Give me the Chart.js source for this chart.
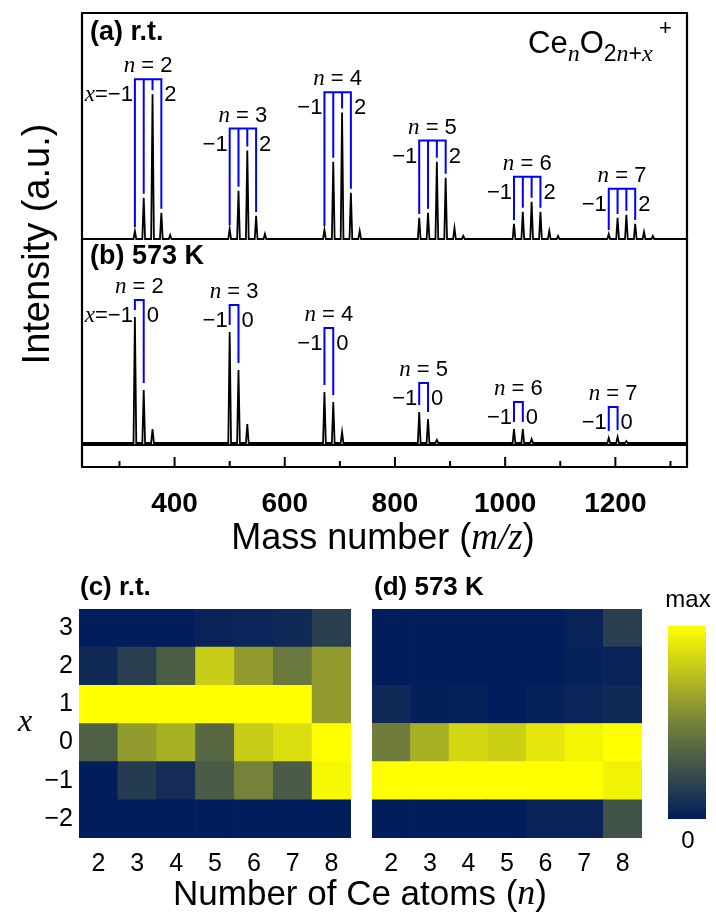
<!DOCTYPE html>
<html>
<head>
<meta charset="utf-8">
<script src="https://cdn.jsdelivr.net/npm/chart.js@4.4.1/dist/chart.umd.min.js"></script>
<style>
  body { margin: 0; background: #fff; width: 716px; height: 916px; position: relative; overflow: hidden; }
  canvas { position: absolute; }
</style>
</head>
<body>
<canvas id="specA" width="716" height="241" style="left:0;top:0"></canvas>
<canvas id="specB" width="716" height="570" style="left:0;top:0"></canvas>
<canvas id="mapC" width="716" height="346" style="left:0;top:570px"></canvas>
<canvas id="mapD" width="300" height="346" style="left:360px;top:570px"></canvas>
<canvas id="cbar" width="66" height="346" style="left:650px;top:570px"></canvas>
<script>
const SANS = '"Liberation Sans", Arial, sans-serif';
const SERIF = '"Liberation Serif", "Times New Roman", serif';
const NARROW = '"Liberation Sans Narrow", "Arial Narrow", "Liberation Sans", sans-serif';

// (a) r.t. mass spectrum: peak positions and heights
const massA = [328, 344, 360, 376, 392, 500, 516, 532, 548, 564, 672, 688, 704, 720, 736,
  844, 860, 876, 892, 908, 924, 1016, 1032, 1048, 1064, 1080, 1096, 1188, 1204, 1220, 1236, 1252, 1268];
const intA = [8, 41, 144, 26, 4, 10, 48, 88, 23, 5, 9, 77, 126, 46, 8,
  21, 26, 77, 61, 11, 3, 15, 27, 37, 27, 8, 3, 5, 21, 24, 15, 7, 3];
// (b) 573 K
const massB = [328, 344, 360, 500, 516, 532, 672, 688, 704, 844, 860, 876, 1016, 1032, 1048, 1188, 1204, 1220];
const intB = [126, 53, 14, 111, 73, 19, 51, 41, 11, 31, 24, 3, 14, 14, 4, 5, 6, 2];

// cluster brackets
const clusterN = [2, 3, 4, 5, 6, 7];
const bracketMassA = [[328, 344, 360, 376], [500, 516, 532, 548], [672, 688, 704, 720],
  [844, 860, 876, 892], [1016, 1032, 1048, 1064], [1188, 1204, 1220, 1236]];
const bracketTopA = [159, 110, 146, 98, 62, 50];
const bracketMassB = [[328, 344], [500, 516], [672, 688], [844, 860], [1016, 1032], [1188, 1204]];
const bracketTopB = [143, 138, 115, 60, 41, 36];

// mass axis
const massTickMarks = [300, 400, 500, 600, 700, 800, 900, 1000, 1100, 1200, 1300];
const massTicks = [400, 600, 800, 1000, 1200];

// heat maps, rows x = -2 ... 3, columns n = 2 ... 8 (0 = none, 1 = max)
const nAtoms = ['2', '3', '4', '5', '6', '7', '8'];
const xRows = ['−2', '−1', '0', '1', '2', '3'];
const rtMap = [
  [0, 0, 0, 0, 0, 0, 0],
  [0, 0.15, 0.08, 0.31, 0.5, 0.31, 0.97],
  [0.33, 0.6, 0.68, 0.37, 0.8, 0.87, 1],
  [1, 1, 1, 1, 1, 1, 0.6],
  [0.06, 0.17, 0.32, 0.8, 0.6, 0.45, 0.6],
  [0, 0, 0, 0.03, 0.04, 0.06, 0.17]
];
const hotMap = [
  [0, 0, 0, 0, 0.03, 0.03, 0.27],
  [1, 1, 1, 1, 1, 1, 0.95],
  [0.47, 0.68, 0.84, 0.81, 0.9, 0.96, 1],
  [0.06, 0.01, 0.02, 0, 0.02, 0.04, 0.06],
  [0, 0, 0, 0, 0, 0.02, 0.03],
  [0, 0, 0, 0, 0, 0.03, 0.17]
];

const cmapStops = [[0, [2, 29, 91]], [0.5, [118, 130, 58]], [1, [255, 255, 0]]];
function cmap(v) {
  const i = v <= 0.5 ? 0 : 1;
  const [p0, c0] = cmapStops[i], [p1, c1] = cmapStops[i + 1];
  const t = (v - p0) / (p1 - p0);
  const c = c0.map((a, k) => Math.round(a + (c1[k] - a) * t));
  return `rgb(${c[0]},${c[1]},${c[2]})`;
}

function trace(mass, inten) {
  const pts = [{x: 232, y: 0}];
  mass.forEach((m, i) => {
    pts.push({x: m - 2.5, y: 0}, {x: m, y: inten[i]}, {x: m + 2.5, y: 0});
  });
  pts.push({x: 1330, y: 0});
  return pts;
}

function brackets(groups, tops, mass, inten, gap) {
  const pts = [];
  groups.forEach((ms, k) => {
    const top = tops[k];
    const end = m => inten[mass.indexOf(m)] + gap;
    const a = ms[0], b = ms[ms.length - 1];
    pts.push({x: a, y: end(a)}, {x: a, y: top}, {x: b, y: top}, {x: b, y: end(b)}, {x: b, y: null});
    ms.slice(1, -1).forEach(m => pts.push({x: m, y: top}, {x: m, y: end(m)}, {x: m, y: null}));
  });
  return pts;
}

// draw a run of text pieces with their own fonts
function rich(ctx, parts, x, y, align, baseline) {
  ctx.save();
  ctx.fillStyle = '#000';
  ctx.textAlign = 'left';
  ctx.textBaseline = baseline || 'middle';
  const widths = parts.map(p => { ctx.font = p[0]; return ctx.measureText(p[1]).width; });
  const total = widths.reduce((s, w) => s + w, 0);
  let cx = align === 'center' ? x - total / 2 : align === 'right' ? x - total : x;
  parts.forEach((p, i) => {
    ctx.font = p[0];
    ctx.fillText(p[1], cx, y + (p[2] || 0));
    cx += widths[i];
  });
  ctx.restore();
}

const F21 = '22px ' + SANS, I21 = 'italic 23px ' + SERIF;

function clusterLabels(groups, tops, rightLabel) {
  return {
    id: 'clusterLabels',
    afterDatasetsDraw(chart) {
      const {ctx, scales: {x, y}} = chart;
      groups.forEach((ms, k) => {
        const xl = x.getPixelForValue(ms[0]);
        const xr = x.getPixelForValue(ms[ms.length - 1]);
        const yt = y.getPixelForValue(tops[k]);
        rich(ctx, [[I21, 'n'], [F21, ' = ' + clusterN[k]]], (xl + xr) / 2, yt - 13, 'center');
        const left = k === 0 ? [[I21, 'x'], [F21, '=−1']] : [[F21, '−1']];
        rich(ctx, left, xl - 2, yt + 16, 'right');
        rich(ctx, [[F21, rightLabel]], xr + 3, yt + 16, 'left');
      });
    }
  };
}

function frame(sides) {
  return {
    id: 'frame',
    afterDraw(chart) {
      const {ctx, chartArea: a} = chart;
      ctx.save();
      ctx.strokeStyle = '#000';
      ctx.lineWidth = 2.2;
      ctx.beginPath();
      if (sides.includes('top')) { ctx.moveTo(a.left - 1, a.top); ctx.lineTo(a.right + 1, a.top); }
      if (sides.includes('bottom')) { ctx.moveTo(a.left - 1, a.bottom); ctx.lineTo(a.right + 1, a.bottom); }
      ctx.moveTo(a.left, a.top); ctx.lineTo(a.left, a.bottom);
      ctx.moveTo(a.right, a.top); ctx.lineTo(a.right, a.bottom);
      ctx.stroke();
      ctx.restore();
    }
  };
}

const noInteract = {responsive: false, animation: false, events: []};

// ---- (a) r.t.
new Chart(document.getElementById('specA'), {
  type: 'line',
  data: {
    datasets: [
      {data: trace(massA, intA), borderColor: '#000', borderWidth: 1.8, pointRadius: 0, tension: 0},
      {data: brackets(bracketMassA, bracketTopA, massA, intA, 4), borderColor: '#0000ff',
        borderWidth: 2, pointRadius: 0, spanGaps: false}
    ]
  },
  options: {
    ...noInteract,
    layout: {padding: {left: 82, right: 29, top: 13, bottom: 1}},
    plugins: {legend: {display: false}, tooltip: {enabled: false}},
    scales: {
      x: {type: 'linear', min: 232, max: 1330, display: false},
      y: {min: -1, max: 225, display: false}
    }
  },
  plugins: [frame(['top']), clusterLabels(bracketMassA, bracketTopA, '2'), {
    id: 'textA',
    afterDraw(chart) {
      const ctx = chart.ctx;
      rich(ctx, [['bold 27px ' + SANS, '(a) r.t.']], 90, 33, 'left');
      const big = '31px ' + SANS, sub = '23px ' + SANS, subI = 'italic 24px ' + SERIF;
      rich(ctx, [[big, 'Ce'], [subI, 'n', 8], [big, 'O'], [sub, '2', 8], [subI, 'n', 8],
        [sub, '+', 8], [subI, 'x', 8]], 528, 53, 'left', 'alphabetic');
      rich(ctx, [['22px ' + SANS, '+']], 659, 35, 'left', 'alphabetic');
    }
  }]
});

// ---- (b) 573 K and mass axis
new Chart(document.getElementById('specB'), {
  type: 'line',
  data: {
    datasets: [
      {data: trace(massB, intB), borderColor: '#000', borderWidth: 1.8, pointRadius: 0, tension: 0},
      {data: brackets(bracketMassB, bracketTopB, massB, intB, 7), borderColor: '#0000ff',
        borderWidth: 2, pointRadius: 0, spanGaps: false}
    ]
  },
  options: {
    ...noInteract,
    layout: {padding: {left: 82, right: 29, top: 239, bottom: 0}},
    plugins: {legend: {display: false}, tooltip: {enabled: false}},
    scales: {
      x: {
        type: 'linear', min: 232, max: 1330,
        border: {display: false},
        grid: {display: false, drawTicks: false},
        afterBuildTicks: s => { s.ticks = massTickMarks.map(v => ({value: v})); },
        ticks: {
          autoSkip: false, maxRotation: 0, padding: 20, color: '#000',
          font: {family: NARROW, weight: 'bold', size: 28},
          callback: v => massTicks.includes(v) ? String(v) : ''
        },
        afterFit: s => { s.height = 103; }
      },
      y: {min: -24, max: 204, display: false}
    }
  },
  plugins: [frame(['bottom']), clusterLabels(bracketMassB, bracketTopB, '0'), {
    id: 'textB',
    afterDraw(chart) {
      const {ctx, chartArea: a, scales: {x}} = chart;
      ctx.save();
      ctx.strokeStyle = '#000';
      ctx.lineWidth = 2;
      ctx.beginPath();
      ctx.moveTo(a.left, a.bottom - 22); ctx.lineTo(a.right, a.bottom - 22);
      x.ticks.forEach(t => {
        const px = x.getPixelForValue(t.value);
        const len = massTicks.includes(t.value) ? 10 : 6;
        ctx.moveTo(px, a.bottom); ctx.lineTo(px, a.bottom - len);
      });
      ctx.stroke();
      ctx.restore();
      rich(ctx, [['bold 27px ' + SANS, '(b) 573 K']], 90, 257, 'left');
      rich(ctx, [['36px ' + SANS, 'Mass number ('], ['italic 37px ' + SERIF, 'm/z'], ['36px ' + SANS, ')']],
        383, 539, 'center');
      ctx.save();
      ctx.translate(39, 244);
      ctx.rotate(-Math.PI / 2);
      rich(ctx, [['38px ' + SANS, 'Intensity (a.u.)']], 0, 0, 'center');
      ctx.restore();
    }
  }]
});

// ---- heat maps
function heatmap(id, grid, showY, pad, extra) {
  return new Chart(document.getElementById(id), {
    type: 'bar',
    data: {
      labels: nAtoms,
      datasets: xRows.map((r, i) => ({
        label: r,
        data: nAtoms.map(() => 1),
        backgroundColor: grid[i].map(cmap),
        borderWidth: 0,
        barPercentage: 1,
        categoryPercentage: 1
      }))
    },
    options: {
      ...noInteract,
      layout: {padding: pad},
      plugins: {legend: {display: false}, tooltip: {enabled: false}},
      scales: {
        x: {
          stacked: true,
          border: {display: false},
          grid: {display: false, drawTicks: false},
          ticks: {color: '#000', padding: 11, font: {family: SANS, size: 25}},
          afterFit: s => { s.height = 78; }
        },
        y: {
          stacked: true, min: 0, max: 6, display: showY,
          border: {display: false},
          grid: {display: false, drawTicks: false},
          afterBuildTicks: s => { s.ticks = xRows.map((r, i) => ({value: i + 0.5})); },
          ticks: {color: '#000', padding: 6, font: {family: SANS, size: 25},
            callback: (v, i) => xRows[i]},
          afterFit: s => { s.width = showY ? 79 : 0; }
        }
      }
    },
    plugins: [extra]
  });
}

heatmap('mapC', rtMap, true, {left: 0, right: 365, top: 39, bottom: 0}, {
  id: 'textC',
  afterDraw(chart) {
    const ctx = chart.ctx;
    rich(ctx, [['bold 26px ' + SANS, '(c) r.t.']], 80, 18, 'left');
    rich(ctx, [['italic 32px ' + SERIF, 'x']], 25, 153, 'center');
    rich(ctx, [['35px ' + SANS, 'Number of Ce atoms ('], ['italic 36px ' + SERIF, 'n'], ['35px ' + SANS, ')']],
      360, 325, 'center');
  }
});

heatmap('mapD', hotMap, false, {left: 12, right: 18, top: 39, bottom: 0}, {
  id: 'textD',
  afterDraw(chart) {
    rich(chart.ctx, [['bold 26px ' + SANS, '(d) 573 K']], 14, 18, 'left');
  }
});

// ---- colour bar
new Chart(document.getElementById('cbar'), {
  type: 'bar',
  data: {
    labels: [''],
    datasets: [{
      data: [1],
      borderWidth: 0,
      barPercentage: 1,
      categoryPercentage: 1,
      backgroundColor: c => {
        const a = c.chart.chartArea;
        if (!a) return cmap(0.5);
        const g = c.chart.ctx.createLinearGradient(0, a.bottom, 0, a.top);
        [0, 0.25, 0.5, 0.75, 1].forEach(p => g.addColorStop(p, cmap(p)));
        return g;
      }
    }]
  },
  options: {
    ...noInteract,
    layout: {padding: {left: 18, right: 10, top: 56, bottom: 97}},
    plugins: {legend: {display: false}, tooltip: {enabled: false}},
    scales: {x: {display: false}, y: {display: false, min: 0, max: 1}}
  },
  plugins: [{
    id: 'cbarText',
    afterDraw(chart) {
      rich(chart.ctx, [['24px ' + SANS, 'max']], 38, 30, 'center');
      rich(chart.ctx, [['24px ' + SANS, '0']], 38, 271, 'center');
    }
  }]
});
</script>
</body>
</html>
